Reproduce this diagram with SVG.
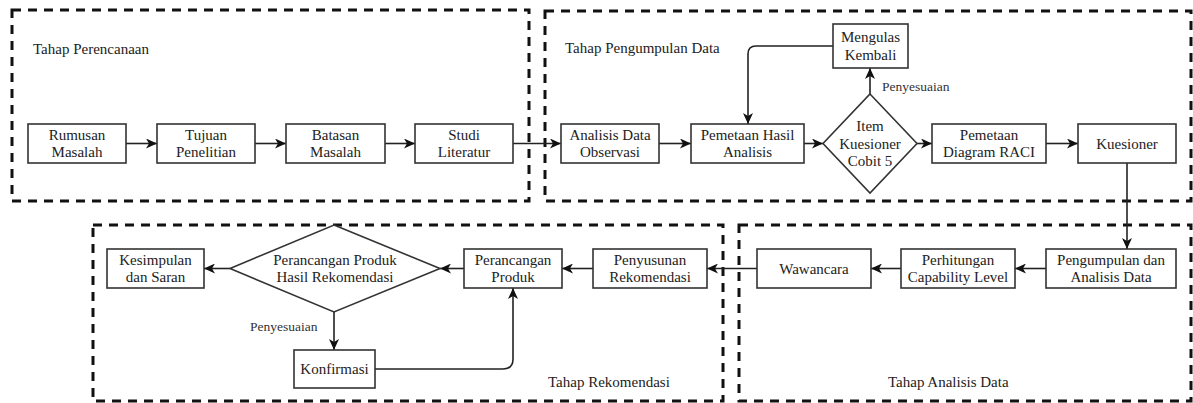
<svg xmlns="http://www.w3.org/2000/svg" width="1193" height="403" viewBox="0 0 1193 403">
<style>
  .bg{fill:#ffffff}
  .frame{fill:none;stroke:#111;stroke-width:3;stroke-dasharray:9 7}
  .node{fill:#fff;stroke:#333;stroke-width:1.6}
  .t{font-family:"Liberation Serif","Times New Roman",serif;font-size:15px;fill:#222;text-anchor:middle}
  .lbl{font-family:"Liberation Serif","Times New Roman",serif;font-size:15px;fill:#222}
  .small{font-family:"Liberation Serif","Times New Roman",serif;font-size:13.5px;fill:#333}
  .edge{fill:none;stroke:#222;stroke-width:1.6}
</style>
<defs>
  <marker id="ah" markerUnits="userSpaceOnUse" markerWidth="12" markerHeight="10" refX="11" refY="5" orient="auto">
    <path d="M0,0 L11,5 L0,10 L3,5 Z" fill="#111"/>
  </marker>
</defs>
<rect class="bg" x="0" y="0" width="1193" height="403"/>

<g id="frames">
  <rect id="frame-perencanaan" class="frame" x="12" y="10" width="517" height="191"/>
  <rect id="frame-pengumpulan" class="frame" x="545" y="11" width="646" height="190"/>
  <rect id="frame-rekomendasi" class="frame" x="93" y="225" width="630" height="176"/>
  <rect id="frame-analisis" class="frame" x="739" y="225" width="452" height="176"/>
  <text class="lbl" x="33" y="54">Tahap Perencanaan</text>
  <text class="lbl" x="565" y="53">Tahap Pengumpulan Data</text>
  <text class="lbl" x="548" y="387">Tahap Rekomendasi</text>
  <text class="lbl" x="888" y="387">Tahap Analisis Data</text>
</g>

<g id="connectors">
  <path class="edge" d="M126,143.5 H157" marker-end="url(#ah)"/>
  <path class="edge" d="M255,143.5 H286" marker-end="url(#ah)"/>
  <path class="edge" d="M385,143.5 H415" marker-end="url(#ah)"/>
  <path class="edge" d="M513,143.5 H561" marker-end="url(#ah)"/>
  <path class="edge" d="M659,143.5 H691" marker-end="url(#ah)"/>
  <path class="edge" d="M804,143.5 H823" marker-end="url(#ah)"/>
  <path class="edge" d="M870,94 V68" marker-end="url(#ah)"/>
  <path class="edge" d="M833,46 H756 Q748,46 748,54 V124" marker-end="url(#ah)"/>
  <path class="edge" d="M917,143.5 H932" marker-end="url(#ah)"/>
  <path class="edge" d="M1046,143.5 H1078" marker-end="url(#ah)"/>
  <path class="edge" d="M1127,163 V249" marker-end="url(#ah)"/>
  <path class="edge" d="M1046,268.5 H1015" marker-end="url(#ah)"/>
  <path class="edge" d="M901,268.5 H871" marker-end="url(#ah)"/>
  <path class="edge" d="M757,268.5 H707" marker-end="url(#ah)"/>
  <path class="edge" d="M593,268.5 H562" marker-end="url(#ah)"/>
  <path class="edge" d="M464,268.5 H440" marker-end="url(#ah)"/>
  <path class="edge" d="M230,268.5 H204" marker-end="url(#ah)"/>
  <path class="edge" d="M334,312 V350" marker-end="url(#ah)"/>
  <path class="edge" d="M375,369 H503 Q513,369 513,359 V288" marker-end="url(#ah)"/>
  <text class="small" x="882" y="91">Penyesuaian</text>
  <text class="small" x="250" y="331">Penyesuaian</text>
</g>

<g id="rumusan">
  <rect class="node" x="28" y="124" width="98" height="39"/>
  <text class="t" x="77" y="140">Rumusan</text>
  <text class="t" x="77" y="157">Masalah</text>
</g>
<g id="tujuan">
  <rect class="node" x="157" y="124" width="98" height="39"/>
  <text class="t" x="206" y="140">Tujuan</text>
  <text class="t" x="206" y="157">Penelitian</text>
</g>
<g id="batasan">
  <rect class="node" x="286" y="124" width="99" height="39"/>
  <text class="t" x="335.5" y="140">Batasan</text>
  <text class="t" x="335.5" y="157">Masalah</text>
</g>
<g id="studi">
  <rect class="node" x="415" y="124" width="98" height="39"/>
  <text class="t" x="464" y="140">Studi</text>
  <text class="t" x="464" y="157">Literatur</text>
</g>
<g id="analisis-observasi">
  <rect class="node" x="561" y="124" width="98" height="39"/>
  <text class="t" x="610" y="140">Analisis Data</text>
  <text class="t" x="610" y="157">Observasi</text>
</g>
<g id="pemetaan-hasil">
  <rect class="node" x="691" y="124" width="113" height="39"/>
  <text class="t" x="747.5" y="140">Pemetaan Hasil</text>
  <text class="t" x="747.5" y="157">Analisis</text>
</g>
<g id="item-kuesioner">
  <polygon class="node" points="870,94 917,143.5 870,193 823,143.5"/>
  <text class="t" x="870" y="131">Item</text>
  <text class="t" x="870" y="148.5">Kuesioner</text>
  <text class="t" x="870" y="166">Cobit 5</text>
</g>
<g id="mengulas">
  <rect class="node" x="833" y="24" width="75" height="44"/>
  <text class="t" x="870.5" y="42">Mengulas</text>
  <text class="t" x="870.5" y="60">Kembali</text>
</g>
<g id="pemetaan-raci">
  <rect class="node" x="932" y="124" width="114" height="39"/>
  <text class="t" x="989" y="140">Pemetaan</text>
  <text class="t" x="989" y="157">Diagram RACI</text>
</g>
<g id="kuesioner">
  <rect class="node" x="1078" y="124" width="98" height="39"/>
  <text class="t" x="1127" y="149">Kuesioner</text>
</g>
<g id="pengumpulan">
  <rect class="node" x="1046" y="249" width="130" height="39"/>
  <text class="t" x="1111" y="265">Pengumpulan dan</text>
  <text class="t" x="1111" y="282">Analisis Data</text>
</g>
<g id="perhitungan">
  <rect class="node" x="901" y="249" width="114" height="39"/>
  <text class="t" x="958" y="265">Perhitungan</text>
  <text class="t" x="958" y="282">Capability Level</text>
</g>
<g id="wawancara">
  <rect class="node" x="757" y="249" width="114" height="39"/>
  <text class="t" x="814" y="274">Wawancara</text>
</g>
<g id="penyusunan">
  <rect class="node" x="593" y="249" width="114" height="39"/>
  <text class="t" x="650" y="265">Penyusunan</text>
  <text class="t" x="650" y="282">Rekomendasi</text>
</g>
<g id="perancangan-produk">
  <rect class="node" x="464" y="249" width="98" height="39"/>
  <text class="t" x="513" y="265">Perancangan</text>
  <text class="t" x="513" y="282">Produk</text>
</g>
<g id="perancangan-hasil">
  <polygon class="node" points="334,225 440,268.5 334,312 230,268.5"/>
  <text class="t" x="335" y="265">Perancangan Produk</text>
  <text class="t" x="335" y="282">Hasil Rekomendasi</text>
</g>
<g id="kesimpulan">
  <rect class="node" x="107" y="249" width="97" height="39"/>
  <text class="t" x="155.5" y="265">Kesimpulan</text>
  <text class="t" x="155.5" y="282">dan Saran</text>
</g>
<g id="konfirmasi">
  <rect class="node" x="294" y="350" width="81" height="38"/>
  <text class="t" x="334.5" y="374">Konfirmasi</text>
</g>
</svg>
